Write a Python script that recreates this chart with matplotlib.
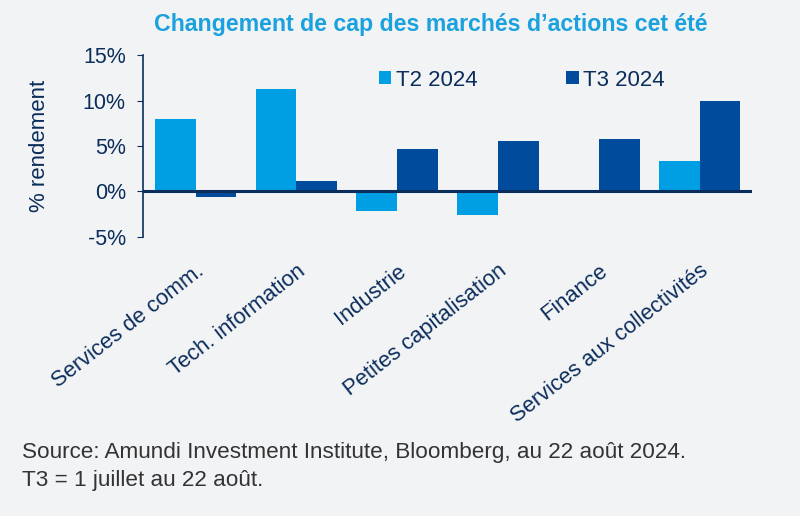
import matplotlib.pyplot as plt
import numpy as np

categories = ['Services de comm.', 'Tech. information', 'Industrie',
              'Petites capitalisation', 'Finance', 'Services aux collectivités']
t2_2024 = [8.0, 11.3, -2.1, -2.6, 0.0, 3.4]
t3_2024 = [-0.6, 1.1, 4.7, 5.6, 5.8, 10.0]
yticks = [-5, 0, 5, 10, 15]

light = '#009FE3'
dark = '#004B9B'
navy = '#0B2D5B'
bg = '#F2F3F5'

plt.rcParams['font.family'] = ['Liberation Sans', 'DejaVu Sans']

fig = plt.figure(figsize=(8, 5.16), dpi=100, facecolor=bg)
ax = fig.add_axes([0.179, 0.541, 0.761, 0.352], facecolor=bg)

x = np.arange(len(categories))
w = 0.405
ax.bar(x - w / 2, t2_2024, w, color=light, label='T2 2024')
ax.bar(x + w / 2, t3_2024, w, color=dark, label='T3 2024')

ax.set_xlim(-0.52, len(categories) - 0.48)
ax.set_ylim(-5, 15)
ax.axhline(0, color=navy, lw=2.2, zorder=3)
ax.set_yticks(yticks)
ax.set_yticklabels([f'{v}%' for v in yticks], fontsize=15.5, color=navy)
ax.set_xticks(x)
ax.set_xticklabels(categories, rotation=38, ha='right', rotation_mode='anchor',
                   fontsize=15.8, color=navy)
ax.tick_params(axis='x', length=0, pad=17)
ax.tick_params(axis='y', length=4.5, color=navy, pad=8)
for s in ['top', 'right', 'bottom']:
    ax.spines[s].set_visible(False)
ax.spines['left'].set_color(navy)
ax.spines['left'].set_linewidth(1.2)

ax.set_ylabel('% rendement', fontsize=16, color=navy, labelpad=24)

ax.legend(loc='center', bbox_to_anchor=(0.622, 0.863), ncol=2, frameon=False,
          fontsize=16, handlelength=0.55, handleheight=0.55, handletextpad=0.2,
          columnspacing=4.0, labelcolor=navy)

fig.text(0.538, 0.952, 'Changement de cap des marchés d’actions cet été',
         ha='center', va='center', fontsize=16.7, fontweight='bold',
         color='#1BA1DD')

fig.text(0.028, 0.123, 'Source: Amundi Investment Institute, Bloomberg, au 22 août 2024.',
         fontsize=16.2, color='#333333', va='center')
fig.text(0.028, 0.068, 'T3 = 1 juillet au 22 août.',
         fontsize=16.2, color='#333333', va='center')

fig.savefig('out.png', dpi=100, facecolor=bg)
